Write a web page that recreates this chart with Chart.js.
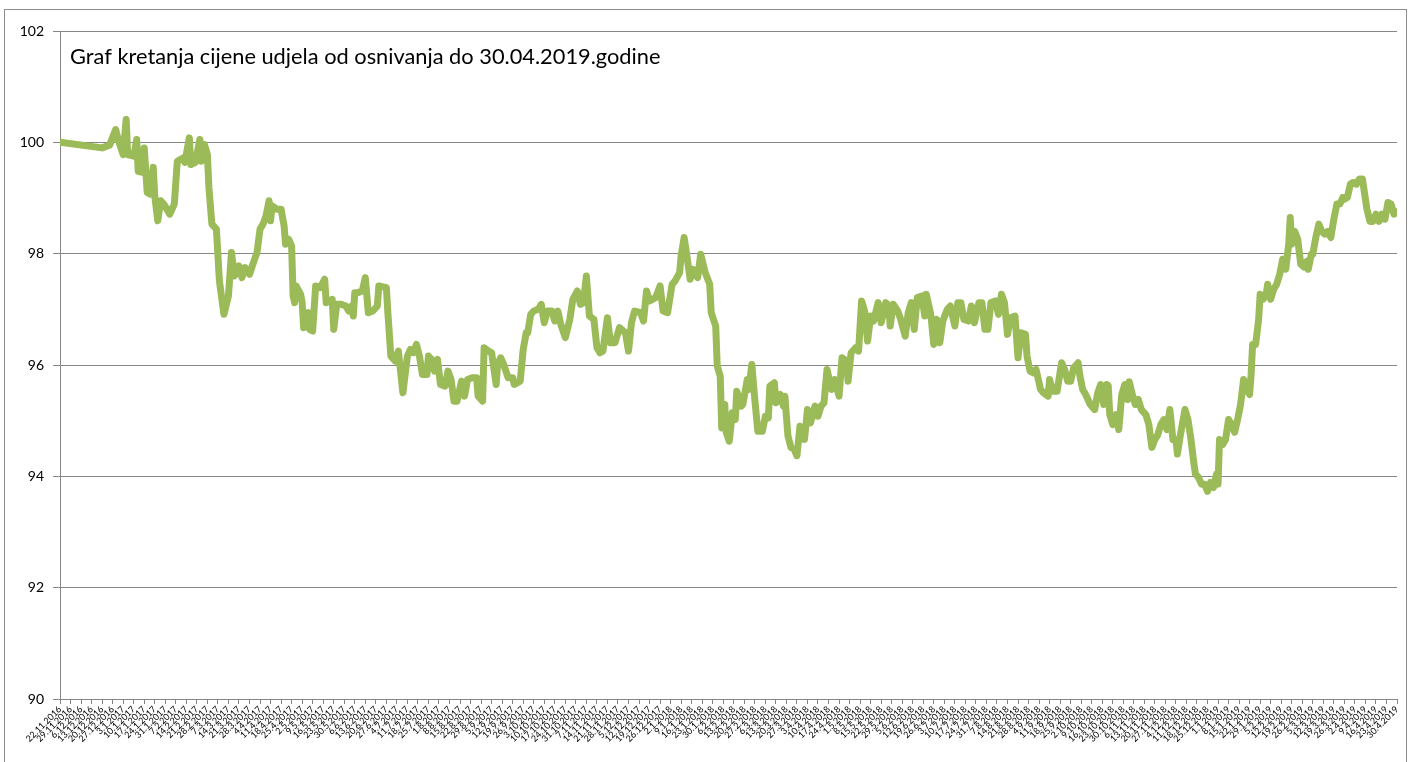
<html>
<head>
<title>Graf kretanja cijene udjela</title>
<script src="https://cdn.jsdelivr.net/npm/chart.js"></script>
<style>
  body { margin: 0; background: #fff; }
  .chart-box { position: relative; width: 1408px; height: 762px; }
</style>
</head>
<body>
<div class="chart-box"><canvas id="priceChart"></canvas></div>
<script>
// weekly tick labels (every Tuesday) along the date axis
const weekLabels = [
  '22.11.2016','29.11.2016','6.12.2016','13.12.2016','20.12.2016','27.12.2016',
  '3.1.2017','10.1.2017','17.1.2017','24.1.2017','31.1.2017','7.2.2017','14.2.2017','21.2.2017','28.2.2017',
  '7.3.2017','14.3.2017','21.3.2017','28.3.2017','4.4.2017','11.4.2017','18.4.2017','25.4.2017',
  '2.5.2017','9.5.2017','16.5.2017','23.5.2017','30.5.2017','6.6.2017','13.6.2017','20.6.2017','27.6.2017',
  '4.7.2017','11.7.2017','18.7.2017','25.7.2017','1.8.2017','8.8.2017','15.8.2017','22.8.2017','29.8.2017',
  '5.9.2017','12.9.2017','19.9.2017','26.9.2017','3.10.2017','10.10.2017','17.10.2017','24.10.2017','31.10.2017',
  '7.11.2017','14.11.2017','21.11.2017','28.11.2017','5.12.2017','12.12.2017','19.12.2017','26.12.2017',
  '2.1.2018','9.1.2018','16.1.2018','23.1.2018','30.1.2018','6.2.2018','13.2.2018','20.2.2018','27.2.2018',
  '6.3.2018','13.3.2018','20.3.2018','27.3.2018','3.4.2018','10.4.2018','17.4.2018','24.4.2018',
  '1.5.2018','8.5.2018','15.5.2018','22.5.2018','29.5.2018','5.6.2018','12.6.2018','19.6.2018','26.6.2018',
  '3.7.2018','10.7.2018','17.7.2018','24.7.2018','31.7.2018','7.8.2018','14.8.2018','21.8.2018','28.8.2018',
  '4.9.2018','11.9.2018','18.9.2018','25.9.2018','2.10.2018','9.10.2018','16.10.2018','23.10.2018','30.10.2018',
  '6.11.2018','13.11.2018','20.11.2018','27.11.2018','4.12.2018','11.12.2018','18.12.2018','25.12.2018',
  '1.1.2019','8.1.2019','15.1.2019','22.1.2019','29.1.2019','5.2.2019','12.2.2019','19.2.2019','26.2.2019',
  '5.3.2019','12.3.2019','19.3.2019','26.3.2019','2.4.2019','9.4.2019','16.4.2019','23.4.2019','30.4.2019'
];
const daysPerTick = 7;
const yMin = 90, yMax = 102, yStep = 2;
const chartTitle = 'Graf kretanja cijene udjela od osnivanja do 30.04.2019.godine';

// [days since 22.11.2016, unit price]
const pricePoints = [
  [0,100.0],[28,99.9],[33,99.95],[37,100.23],[39,100.02],[42,99.78],[44,100.41],[45,99.78],[49,99.75],[51,100.05],
  [52,99.48],[55,99.46],[56,99.9],[58,99.1],[60,99.07],[62,99.55],[63,99.04],[65,98.59],[67,98.95],[69,98.89],
  [73,98.71],[76,98.89],[78,99.66],[82,99.72],[83,99.64],[86,100.08],[87,99.6],[90,99.64],[93,100.05],[94,99.66],
  [96,99.96],[98,99.78],[99,99.19],[101,98.53],[104,98.44],[106,97.51],[109,96.91],
  [112,97.24],[114,98.02],[116,97.6],[119,97.78],[121,97.57],[123,97.75],[126,97.63],[129,97.87],[131,98.02],[133,98.44],
  [135,98.53],[137,98.68],[139,98.95],[140,98.59],[141,98.86],[144,98.8],[147,98.8],[149,98.5],[150,98.17],[152,98.26],
  [154,98.14],[155,97.24],[156,97.12],[157,97.42],[160,97.27],[161,97.12],[162,96.67],[165,96.94],[166,96.64],[168,96.61],
  [170,97.42],[173,97.39],[176,97.54],[177,97.12],[181,97.18],[182,96.64],[184,97.09],[187,97.09],[190,97.06],[192,96.97],
  [194,97.06],[195,96.88],[196,97.3],[198,97.3],[201,97.33],[203,97.57],[205,96.94],[208,96.97],[211,97.06],[212,97.42],
  [217,97.39],[218,96.94],[220,96.16],[223,96.07],[225,96.25],[228,95.5],
  [231,96.16],[233,96.28],[235,96.22],[237,96.37],[239,96.16],[241,95.83],[244,95.83],[245,96.16],[247,96.1],[249,95.89],
  [251,96.1],[253,95.65],[256,95.62],[258,95.89],[260,95.74],[262,95.35],[264,95.35],[267,95.71],[269,95.44],[271,95.74],
  [274,95.77],[277,95.77],[278,95.44],[281,95.35],[282,96.31],[285,96.25],[287,96.22],[290,95.65],[291,96.01],[293,96.13],
  [295,96.01],[298,95.77],[301,95.77],[302,95.65],[306,95.71],[308,96.28],[310,96.58],[311,96.58],[313,96.91],[315,96.97],
  [318,97.0],[320,97.09],[322,96.76],[324,96.97],[327,96.97],[329,96.79],[331,96.97],[333,96.73],[336,96.49],
  [339,96.82],[341,97.18],[344,97.33],[346,97.09],[348,97.12],[350,97.6],[352,96.88],[355,96.82],[357,96.31],[359,96.22],
  [361,96.25],[364,96.85],[366,96.4],[369,96.4],[372,96.67],[376,96.58],[378,96.25],[380,96.76],[382,96.97],[386,96.94],
  [388,96.79],[390,97.33],[392,97.15],[396,97.21],[399,97.42],[401,96.97],[404,96.94],[407,97.45],[409,97.51],[412,97.66],
  [413,97.96],[415,98.29],[417,97.93],[419,97.54],[421,97.72],[424,97.57],[426,97.99],[429,97.66],[432,97.45],[433,96.94],
  [436,96.7],[437,95.98],[439,95.8],[440,94.87],[442,95.29],[443,94.79],[445,94.63],[447,95.14],
  [449,95.02],[450,95.53],[453,95.26],[454,95.29],[457,95.74],[458,95.56],[460,96.01],[462,95.38],[464,94.81],[467,94.81],
  [469,95.08],[471,95.05],[472,95.62],[475,95.68],[476,95.32],[479,95.47],[481,95.26],[482,95.44],[484,94.73],[486,94.52],
  [488,94.49],[490,94.37],[492,94.9],[494,94.84],[495,94.66],[497,95.2],[499,94.96],[502,95.26],[504,95.08],[506,95.26],
  [508,95.32],[510,95.92],[513,95.56],[515,95.74],[518,95.44],[520,96.13],[523,96.07],[524,95.71],[526,96.22],[529,96.31],
  [531,96.25],[532,96.7],[533,97.15],[535,96.97],[537,96.43],[539,96.88],[541,96.79],[544,97.12],[546,96.76],[549,97.12],
  [551,97.06],[552,96.7],[554,97.09],[557,96.97],[559,96.82],[562,96.52],
  [564,96.94],[566,97.12],[568,96.64],[570,97.21],[573,97.24],[575,96.88],[576,97.27],[579,96.91],[581,96.37],[583,96.82],
  [585,96.4],[587,96.79],[590,97.0],[592,97.06],[595,96.7],[597,97.12],[599,97.12],[601,96.82],[604,96.79],[606,97.06],
  [608,96.76],[611,97.12],[613,97.12],[615,96.64],[617,96.64],[619,97.12],[622,97.15],[624,96.91],[626,97.27],[628,97.12],
  [630,96.55],[632,96.85],[635,96.88],[637,96.13],[639,96.58],[642,96.55],[643,96.16],[645,95.89],[647,95.86],[649,95.92],
  [652,95.56],[654,95.5],[657,95.44],[658,95.74],[660,95.53],[663,95.53],[666,96.04],[668,95.92],[670,95.71],[672,95.71],
  [674,95.95],[677,96.04],
  [678,95.83],[680,95.56],[682,95.47],[685,95.29],[688,95.2],[690,95.5],[692,95.65],[694,95.29],[696,95.65],[697,95.63],
  [698,95.11],[700,94.93],[702,95.11],[704,94.84],[706,95.47],[708,95.65],[710,95.38],[711,95.7],[713,95.47],[715,95.29],
  [717,95.38],[719,95.2],[722,95.11],[724,94.93],[726,94.52],[728,94.66],[730,94.75],[732,94.93],[734,95.02],[736,94.84],
  [738,95.2],[740,94.66],[742,94.66],[743,94.4],[745,94.75],[748,95.2],[750,95.02],[752,94.66],[754,94.22],[755,94.04],
  [757,93.98],[759,93.86],[761,93.86],[763,93.73],[765,93.89],[767,93.8],[769,94.04],[770,93.86],[771,94.66],[773,94.57],
  [775,94.66],[777,95.02],[779,94.93],[781,94.79],[783,95.02],[785,95.29],[787,95.74],[789,95.56],[791,95.47],
  [792,95.83],[793,96.37],[795,96.37],[797,96.82],[798,97.27],[800,97.18],[802,97.27],[803,97.45],[805,97.18],[807,97.36],
  [809,97.45],[811,97.63],[813,97.9],[815,97.72],[817,98.17],[818,98.65],[819,98.17],[821,98.4],[823,98.26],[825,97.81],
  [827,97.76],[829,97.86],[830,97.72],[832,97.99],[833,97.99],[835,98.29],[837,98.53],[839,98.4],[841,98.35],[843,98.4],
  [845,98.29],[847,98.62],[849,98.89],[851,98.89],[853,99.01],[854,98.98],[856,99.01],[858,99.25],[860,99.28],[862,99.25],
  [864,99.34],[866,99.34],[868,98.98],[869,98.8],[871,98.58],[873,98.58],[875,98.71],[877,98.58],[879,98.71],[881,98.62],
  [883,98.92],[885,98.89],[887,98.71],[889,98.75]
];

const gridGray = '#868686';

// white background, outer chart frame and the title inside the plot
const framePlugin = {
  id: 'frame',
  beforeDraw(chart) {
    const c = chart.ctx;
    c.save();
    c.fillStyle = '#fff';
    c.fillRect(0, 0, chart.width, chart.height);
    c.strokeStyle = '#8c8c8c';
    c.lineWidth = 1;
    c.strokeRect(4.5, 9.5, 1402, 760);
    c.restore();
  },
  afterDraw(chart) {
    const c = chart.ctx;
    const a = chart.chartArea;
    c.save();
    c.fillStyle = '#000';
    c.font = '21.8px Lato';
    c.textBaseline = 'alphabetic';
    c.fillText(chartTitle, a.left + 10, a.top + 33);
    c.restore();
  }
};

const ctx = document.getElementById('priceChart').getContext('2d');
const priceChart = new Chart(ctx, {
  type: 'line',
  data: {
    datasets: [{
      data: pricePoints.map(p => ({ x: p[0], y: p[1] })),
      borderColor: '#9BBB59',
      borderWidth: 7,
      pointRadius: 0,
      tension: 0,
      fill: false,
      borderJoinStyle: 'round',
      borderCapStyle: 'round'
    }]
  },
  options: {
    responsive: true,
    maintainAspectRatio: false,
    animation: false,
    devicePixelRatio: 1,
    layout: { padding: { left: 0, top: 31, right: 11, bottom: 0 } },
    plugins: { legend: { display: false }, tooltip: { enabled: false } },
    scales: {
      x: {
        type: 'linear',
        min: 0,
        max: (weekLabels.length - 1) * daysPerTick,
        afterFit: s => { s.height = 63; },
        ticks: {
          stepSize: daysPerTick,
          autoSkip: false,
          maxRotation: 45,
          minRotation: 45,
          padding: 0,
          color: '#000',
          font: { family: 'Lato', size: 9 },
          callback: v => weekLabels[Math.round(v / daysPerTick)] || ''
        },
        grid: { drawOnChartArea: false, drawTicks: true, tickLength: 5, color: gridGray },
        border: { color: gridGray }
      },
      y: {
        min: yMin,
        max: yMax,
        afterFit: s => { s.width = 60; },
        ticks: {
          stepSize: yStep,
          padding: 9,
          color: '#000',
          font: { family: 'Lato', size: 14 }
        },
        grid: { color: gridGray, tickLength: 7 },
        border: { color: gridGray }
      }
    }
  },
  plugins: [framePlugin]
});
</script>
</body>
</html>
